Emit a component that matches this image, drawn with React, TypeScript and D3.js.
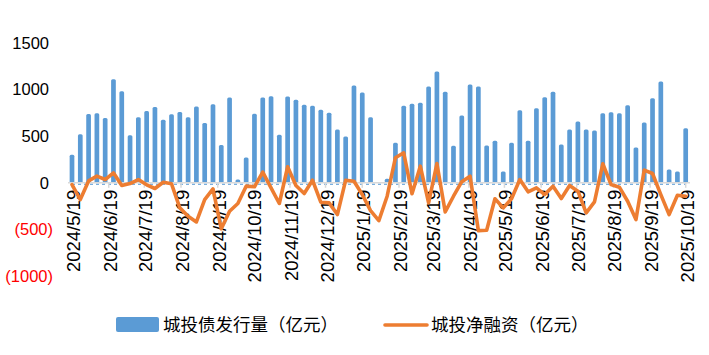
import React from "react";
import * as d3 from "d3";

const startDate = "2024-05-19";
const issuance = [
  300, 520, 738, 745, 695, 1110, 982, 509, 702, 770,
  813, 677, 735, 760, 702, 820, 641, 842, 405, 915,
  35, 272, 742, 914, 928, 516, 925, 892, 838, 828,
  785, 752, 573, 498, 1043, 968, 702, 0, 43, 430,
  828, 849, 860, 1032, 1193, 978, 398, 722, 1054, 1032,
  401, 451, 122, 430, 778, 451, 799, 917, 978, 412,
  573, 659, 573, 562, 745, 756, 745, 831, 380, 648,
  906, 1086, 143, 122, 584,
];
const netFinancing = [
  -20, -180, 20, 71, 35, 107, -29, -8, 35, -22,
  -61, 6, -11, -269, -359, -420, -180, -65, -494, -305,
  -222, -36, -43, 114, -54, -222, 172, -29, -115, 28,
  -208, -215, -341, 28, 17, -126, -298, -405, -144, 269,
  322, -118, 178, -215, 207, -312, -144, 12, 71, -513,
  -509, -172, -269, -172, 35, -97, -54, -126, -36, -169,
  -29, -90, -323, -204, 204, -18, -47, -198, -395, 136,
  100, -126, -341, -133, -145,
];
const xTickLabels = [
  "2024/5/19", "2024/6/19", "2024/7/19", "2024/8/19", "2024/9/19", "2024/10/19",
  "2024/11/19", "2024/12/19", "2025/1/19", "2025/2/19", "2025/3/19", "2025/4/19",
  "2025/5/19", "2025/6/19", "2025/7/19", "2025/8/19", "2025/9/19", "2025/10/19",
];
const yTicks = [1500, 1000, 500, 0, -500, -1000];
const legendLabels = ["城投债发行量（亿元）", "城投净融资（亿元）"];

const BLUE = "#5B9BD5";
const ORANGE = "#ED7D31";

const parseISO = d3.timeParse("%Y-%m-%d");
const parseTick = d3.timeParse("%Y/%m/%d");

export default function App() {
  const W = 709, H = 355;
  const start = parseISO(startDate) as Date;
  const dates = issuance.map((_, i) => d3.timeDay.offset(start, i * 7));
  const x = d3.scaleTime().domain([dates[0], dates[dates.length - 1]]).range([72, 685.7]);
  const y = d3.scaleLinear().domain([-1000, 1500]).range([276, 43]);
  const y0 = y(0);
  const barW = 4.7;
  const line = d3.line<number>().x((_, i) => x(dates[i])).y((d) => y(d));
  const font = "'Liberation Sans', Arial, sans-serif";
  const cjk = "'Noto Sans CJK SC', 'Noto Sans', sans-serif";

  return (
    <svg width={W} height={H} style={{ position: "absolute", left: 0, top: 0, background: "#fff" }}>
      {issuance.map((v, i) =>
        v > 0 ? (
          <rect key={i} x={x(dates[i]) - barW / 2} y={y(v)} width={barW} height={y0 - y(v)} rx={1.5} fill={BLUE} />
        ) : null
      )}
      <line x1={68} x2={690} y1={y0} y2={y0} stroke="#d9d9d9" strokeWidth={1.5} />
      <line x1={x(dates[0])} x2={x(dates[dates.length - 1])} y1={y0 + 1.5} y2={y0 + 1.5} stroke={BLUE} strokeWidth={1} strokeDasharray="3,3" />
      {xTickLabels.map((t) => {
        const xx = x(parseTick(t) as Date);
        return (
          <g key={t}>
            <line x1={xx} x2={xx} y1={y0} y2={y0 + 5} stroke="#d9d9d9" strokeWidth={1.5} />
            <text
              transform={`translate(${xx + 8},${y0 + 7}) rotate(-90)`}
              textAnchor="end"
              fontFamily={font}
              fontSize={18.5}
              fill="#000"
            >
              {t}
            </text>
          </g>
        );
      })}
      <path d={line(netFinancing) || ""} fill="none" stroke={ORANGE} strokeWidth={3.6} strokeLinejoin="round" strokeLinecap="round" />
      {yTicks.map((t) => (
        <text
          key={t}
          x={t < 0 ? 53 : 49}
          y={y(t)}
          dy="0.35em"
          textAnchor="end"
          fontFamily={font}
          fontSize={16.5}
          fill={t < 0 ? "#FF0000" : "#000"}
        >
          {t < 0 ? `(${Math.abs(t)})` : String(t)}
        </text>
      ))}
      <rect x={116} y={317} width={43} height={15} rx={2} fill={BLUE} />
      <text x={163} y={324.5} dy="0.35em" fontFamily={cjk} fontSize={17.5} fill="#000">
        {legendLabels[0]}
      </text>
      <line x1={385} x2={427} y1={325} y2={325} stroke={ORANGE} strokeWidth={3.6} strokeLinecap="round" />
      <text x={431} y={324.5} dy="0.35em" fontFamily={cjk} fontSize={17.5} fill="#000">
        {legendLabels[1]}
      </text>
    </svg>
  );
}
